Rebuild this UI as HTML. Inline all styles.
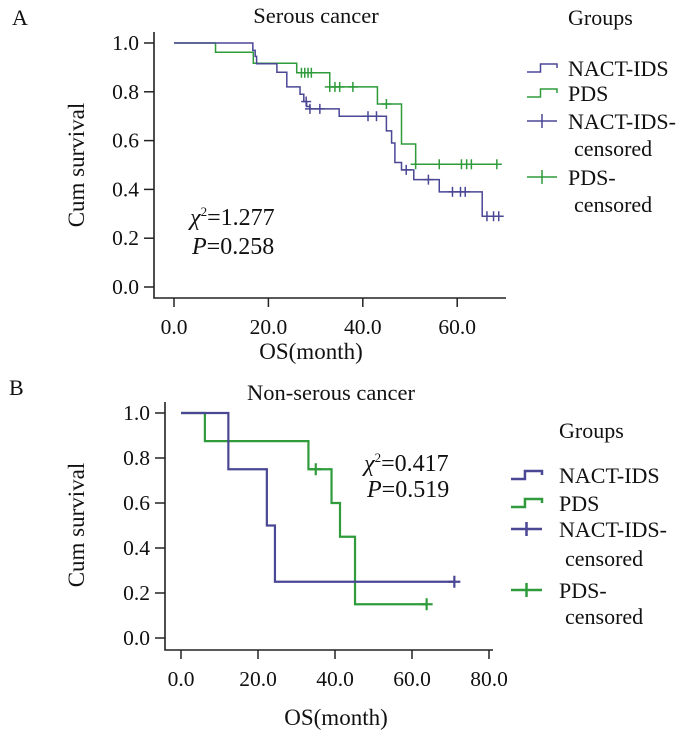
<!DOCTYPE html>
<html><head><meta charset="utf-8"><style>
html,body{margin:0;padding:0;background:#fff;}
svg{display:block;font-family:"Liberation Serif",serif;}
</style></head><body>
<svg id="chart" width="700" height="739" viewBox="0 0 700 739" xmlns="http://www.w3.org/2000/svg"></svg>
<script>
// Panel A data (Serous cancer)
const aBlueT = [0,16.7,17.2,17.5,21.8,23.9,26.7,27.5,28.1,28.8,35.0,45.0,46.1,46.8,48.2,50.8,56.2,65.3,68.8];
const aBlueS = [1.0,0.97,0.945,0.915,0.88,0.82,0.79,0.76,0.74,0.73,0.70,0.64,0.59,0.51,0.48,0.44,0.39,0.29,0.29];
const aBlueCensT = [28.0,28.8,30.9,41.1,42.9,49.2,53.9,59.0,60.7,61.7,66.3,67.7,68.8];
const aGreenT = [0,8.8,16.8,26.0,33.0,43.1,48.2,51.2,68.4];
const aGreenS = [1.0,0.962,0.917,0.878,0.82,0.75,0.586,0.503,0.503];
const aGreenCensT = [27.0,27.7,28.4,29.1,33.0,34.1,35.1,37.9,45.0,51.2,56.2,60.9,62.0,63.0,68.4];
// Panel B data (Non-serous cancer)
const bBlueT = [0,12.3,22.3,24.4,71];
const bBlueS = [1.0,0.75,0.5,0.25,0.25];
const bBlueCensT = [71];
const bGreenT = [0,6.2,33.1,39.1,41.3,45.2,63.8];
const bGreenS = [1.0,0.875,0.75,0.6,0.45,0.15,0.15];
const bGreenCensT = [35.0,63.8];
const aXTicks = [0,20,40,60];
const bXTicks = [0,20,40,60,80];
const yTicks = [0,0.2,0.4,0.6,0.8,1.0];

const BLUE = "#4a4795", GREEN = "#2f9b3b";
const svg = document.getElementById('chart');
const NS = "http://www.w3.org/2000/svg";
function el(tag, attrs, parent){const e=document.createElementNS(NS,tag);for(const k in attrs)e.setAttribute(k,attrs[k]);(parent||svg).appendChild(e);return e;}
function txt(s, attrs, parent){const e=el('text',attrs,parent);e.textContent=s;return e;}

function survAt(T,S,t){let v=S[0];for(let i=0;i<T.length;i++){if(T[i]<=t+1e-9)v=S[i];}return v;}

function panel(cfg){
  const g = el('g',{});
  
  
  const xs = t => cfg.x0 + t*cfg.px;
  const ys = s => cfg.y0 - s*cfg.py;
  const ax = el('path',{d:`M${cfg.axX} ${cfg.axTop} V${cfg.axY} H${cfg.axRight}`,fill:'none',stroke:'#222','stroke-width':1.6},g);
  
  
  yTicks.forEach(v=>{
    const l=el('line',{x1:cfg.axX-10,x2:cfg.axX,y1:ys(v),y2:ys(v),stroke:'#222','stroke-width':1.5},g);
    
    
    const t=txt(v.toFixed(1),{x:cfg.axX-15,y:ys(v)+7,'text-anchor':'end','font-size':21.5,fill:'#111'},g);
    
    
  });
  cfg.xTicks.forEach(v=>{
    const l=el('line',{x1:xs(v),x2:xs(v),y1:cfg.axY,y2:cfg.axY+9,stroke:'#222','stroke-width':1.5},g);
    
    
    const t=txt(v.toFixed(1),{x:xs(v),y:cfg.axY+36,'text-anchor':'middle','font-size':21.5,fill:'#111'},g);
    
    
  });
  function curve(T,S,C,color,nm){
    let d=`M${xs(T[0])} ${ys(S[0])}`;
    for(let i=1;i<T.length;i++){d+=` H${xs(T[i])} V${ys(S[i])}`;}
    const p=el('path',{d,fill:'none',stroke:color,'stroke-width':cfg.sw},g);
    
    
    C.forEach(t=>{
      const s=survAt(T,S,t);
      const c=el('line',{x1:xs(t),x2:xs(t),y1:ys(s)-cfg.ch,y2:ys(s)+cfg.ch,stroke:color,'stroke-width':cfg.sw},g);
      
      
      const c2=el('line',{x1:xs(t)-cfg.ch,x2:xs(t)+cfg.ch,y1:ys(s),y2:ys(s),stroke:color,'stroke-width':cfg.sw},g);
      
      
    });
  }
  curve(cfg.gT,cfg.gS,cfg.gC,GREEN,'pds');
  curve(cfg.bT,cfg.bS,cfg.bC,BLUE,'nact-ids');
}

panel({name:'panel-a',x0:174,px:4.72,y0:287,py:244,axX:154,axTop:32,axY:298,axRight:506,xTicks:aXTicks,sw:1.5,ch:5,
  bT:aBlueT,bS:aBlueS,bC:aBlueCensT,gT:aGreenT,gS:aGreenS,gC:aGreenCensT});
panel({name:'panel-b',x0:181,px:3.85,y0:638,py:225,axX:165,axTop:402,axY:650,axRight:493,xTicks:bXTicks,sw:2.2,ch:6,
  bT:bBlueT,bS:bBlueS,bC:bBlueCensT,gT:bGreenT,gS:bGreenS,gC:bGreenCensT});

function legend(x,iconX,iconW,ys,sw,nm){
  const g=el('g',{});
  
  
  const [yg,y1,y2,y3,y3b,y4,y4b]=ys;
  txt('Groups',{x:x,y:yg,'font-size':22,fill:'#111'},g);
  const items=[[y1,'NACT-IDS',BLUE,'step'],[y2,'PDS',GREEN,'step'],[y3,'NACT-IDS-',BLUE,'plus'],[y4,'PDS-',GREEN,'plus']];
  items.forEach(([y,label,color,kind])=>{
    const cy=y-8;
    if(kind==='step'){
      el('path',{d:`M${iconX} ${cy+4} H${iconX+iconW*0.45} V${cy-4} H${iconX+iconW} V${cy}`,fill:'none',stroke:color,'stroke-width':sw},g);
    } else {
      el('path',{d:`M${iconX} ${cy} H${iconX+iconW} M${iconX+iconW/2} ${cy-7} V${cy+7}`,fill:'none',stroke:color,'stroke-width':sw},g);
    }
    const t=txt(label,{x:x,y:y,'font-size':22,fill:'#111'},g);
    
    
  });
  txt('censored',{x:x+6,y:y3b,'font-size':22,fill:'#111'},g);
  txt('censored',{x:x+6,y:y4b,'font-size':22,fill:'#111'},g);
}
legend(568,527,30,[25,76,101,129,156,185,212],1.5,'legend-a');
legend(559,511,31,[438,483,511,537,566,598,624],2.5,'legend-b');
</script>
<script>
(function(){
const svg=document.getElementById('chart');const NS="http://www.w3.org/2000/svg";
function t(s,a,name){const e=document.createElementNS(NS,'text');for(const k in a)e.setAttribute(k,a[k]);e.textContent=s;


svg.appendChild(e);return e;}
t('A',{x:12,y:25,'font-size':22,fill:'#111'},'panel-a-label');
t('B',{x:9,y:395,'font-size':22,fill:'#111'},'panel-b-label');
t('Serous cancer',{x:316,y:23,'font-size':22.5,'text-anchor':'middle',fill:'#111'},'panel-a-title');
t('Non-serous cancer',{x:331,y:400,'font-size':22.5,'text-anchor':'middle',fill:'#111'},'panel-b-title');
t('Cum survival',{x:0,y:0,'font-size':23,'text-anchor':'middle',fill:'#111',transform:'translate(84,165) rotate(-90)'},'y-axis-title-a');
t('Cum survival',{x:0,y:0,'font-size':23,'text-anchor':'middle',fill:'#111',transform:'translate(84,525) rotate(-90)'},'y-axis-title-b');
t('OS(month)',{x:311,y:359,'font-size':23,'text-anchor':'middle',fill:'#111'},'x-axis-title-a');
t('OS(month)',{x:336,y:725,'font-size':23,'text-anchor':'middle',fill:'#111'},'x-axis-title-b');
t('',{x:190,y:225,'font-size':24,fill:'#111'},'stat-chi-a').innerHTML='<tspan font-style="italic">χ</tspan><tspan font-size="13" dy="-9">2</tspan><tspan dy="9">=1.277</tspan>';
t('',{x:192,y:254,'font-size':24,fill:'#111'},'stat-p-a').innerHTML='<tspan font-style="italic">P</tspan>=0.258';
t('',{x:364,y:471,'font-size':24,fill:'#111'},'stat-chi-b').innerHTML='<tspan font-style="italic">χ</tspan><tspan font-size="13" dy="-9">2</tspan><tspan dy="9">=0.417</tspan>';
t('',{x:367,y:497,'font-size':24,fill:'#111'},'stat-p-b').innerHTML='<tspan font-style="italic">P</tspan>=0.519';
})();
</script>
</body></html>
